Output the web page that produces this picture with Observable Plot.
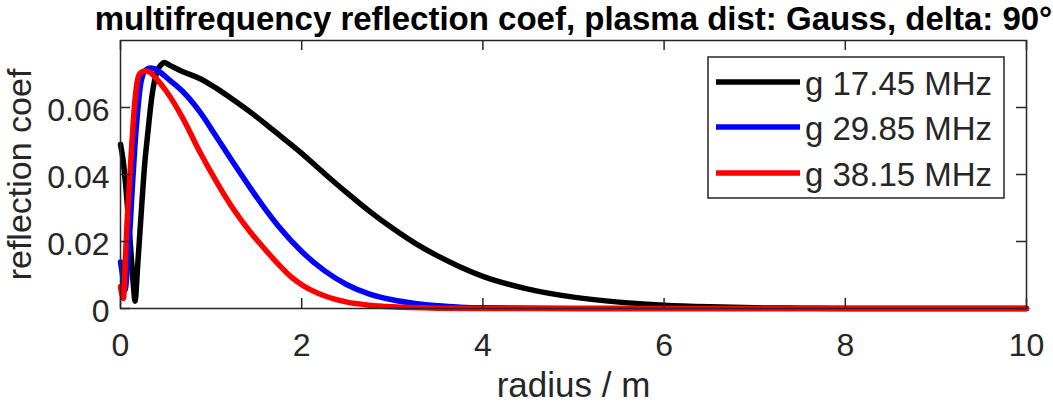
<!DOCTYPE html>
<html>
<head>
<meta charset="utf-8">
<script src="https://cdn.jsdelivr.net/npm/d3@7"></script>
<script src="https://cdn.jsdelivr.net/npm/@observablehq/plot@0.6"></script>
<style>
  html, body { margin: 0; padding: 0; background: white; }
  #wrap { position: relative; width: 1053px; height: 406px; overflow: hidden; }
  #legend { position: absolute; left: 0; top: 0; }
</style>
</head>
<body>
<div id="wrap"></div>
<script>
// ---- data ----
const seriesNames = ["g 17.45 MHz", "g 29.85 MHz", "g 38.15 MHz"];
const seriesColors = ["#000000", "#0000ff", "#ff0000"];

const r1 = [0, 0.03, 0.06, 0.09, 0.12, 0.145, 0.16, 0.19, 0.22, 0.27, 0.30, 0.35, 0.40, 0.45, 0.48, 0.55, 0.69, 0.88, 1.06, 1.24, 1.43, 1.61, 1.76, 2.0, 2.25, 2.5, 2.75, 3.0, 3.25, 3.5, 3.75, 4.0, 4.5, 5.0, 5.5, 6.0, 6.5, 7.0, 7.5, 8, 9, 10];
const v1 = [0.049, 0.044, 0.036, 0.026, 0.015, 0.006, 0.0022, 0.013, 0.025, 0.044, 0.052, 0.064, 0.0705, 0.0728, 0.0734, 0.0725, 0.0707, 0.0686, 0.0657, 0.0624, 0.0587, 0.0549, 0.0516, 0.0463, 0.0403, 0.0345, 0.0290, 0.0240, 0.0195, 0.0157, 0.0124, 0.0096, 0.0058, 0.0034, 0.0019, 0.0010, 0.0005, 0.0002, 0.0001, 0, 0, 0];

const r2 = [0, 0.025, 0.05, 0.08, 0.106, 0.13, 0.16, 0.19, 0.217, 0.25, 0.29, 0.33, 0.36, 0.40, 0.545, 0.69, 0.876, 1.06, 1.24, 1.43, 1.61, 1.76, 2.0, 2.25, 2.5, 2.75, 3.0, 3.25, 3.5, 3.75, 4.0, 5, 6, 8, 10];
const v2 = [0.0139, 0.0095, 0.0055, 0.014, 0.0244, 0.036, 0.049, 0.059, 0.066, 0.0700, 0.0714, 0.0718, 0.0717, 0.0712, 0.0681, 0.0647, 0.0587, 0.0512, 0.0437, 0.0361, 0.0292, 0.0240, 0.0170, 0.0113, 0.0071, 0.0043, 0.0026, 0.0015, 0.0008, 0.0004, 0.0002, 0, 0, 0, 0];

const r3 = [0, 0.033, 0.05, 0.07, 0.10, 0.125, 0.15, 0.18, 0.21, 0.25, 0.27, 0.32, 0.40, 0.51, 0.69, 0.876, 1.06, 1.24, 1.43, 1.61, 1.76, 1.88, 2.0, 2.25, 2.5, 2.75, 3.0, 3.5, 4, 6, 8, 10];
const v3 = [0.0065, 0.003, 0.012, 0.0244, 0.038, 0.049, 0.059, 0.067, 0.0700, 0.0708, 0.0709, 0.0706, 0.0685, 0.0647, 0.0567, 0.0467, 0.0378, 0.0299, 0.0229, 0.0172, 0.0127, 0.0095, 0.0071, 0.0038, 0.0019, 0.0010, 0.0005, 0.0001, 0, 0, 0, 0];

const xTicks = [0, 2, 4, 6, 8, 10];
const yTicks = [0, 0.02, 0.04, 0.06];
const yTickLabels = ["0", "0.02", "0.04", "0.06"];

const titleText = "multifrequency reflection coef, plasma dist: Gauss, delta: 90°";
const xLabel = "radius / m";
const yLabel = "reflection coef";

// ---- build ----
const mk = (rs, vs) => rs.map((r, i) => ({r, v: vs[i]}));
const data = [mk(r1, v1), mk(r2, v2), mk(r3, v3)];

const axisColor = "#262626";
const fontFamily = "'Liberation Sans', Arial, Helvetica, sans-serif";

const chart = Plot.plot({
  width: 1053,
  height: 406,
  marginLeft: 120,
  marginRight: 27,
  marginTop: 40,
  marginBottom: 98,
  style: {fontFamily, color: axisColor, background: "white", overflow: "visible"},
  x: {domain: [0, 10]},
  y: {domain: [0, 0.08]},
  marks: [
    ...data.map((d, i) => Plot.line(d, {x: "r", y: "v", stroke: seriesColors[i], strokeWidth: 5.5, curve: "monotone-x"})),
    Plot.frame({stroke: axisColor, strokeWidth: 1.5}),
    Plot.tickX(xTicks, {x: d => d, insetTop: 258, stroke: axisColor, strokeWidth: 1.5}),
    Plot.tickX(xTicks, {x: d => d, insetBottom: 258, stroke: axisColor, strokeWidth: 1.5}),
    Plot.tickY(yTicks, {y: d => d, insetRight: 896, stroke: axisColor, strokeWidth: 1.5}),
    Plot.tickY(yTicks, {y: d => d, insetLeft: 896, stroke: axisColor, strokeWidth: 1.5}),
    Plot.axisX({ticks: xTicks, tickSize: 0, tickPadding: 25, fontSize: 32, label: null, tickFormat: d => String(d)}),
    Plot.axisY({ticks: yTicks, tickSize: 0, tickPadding: 11, fontSize: 32, label: null, dy: 3,
      tickFormat: d => yTickLabels[yTicks.indexOf(d)]}),
    Plot.text([titleText], {text: d => d, frameAnchor: "top", dy: -11, lineAnchor: "bottom", fontSize: 33, fontWeight: "bold", fill: "#000"}),
    Plot.text([xLabel], {text: d => d, frameAnchor: "bottom", dy: 88, lineAnchor: "bottom", fontSize: 35}),
    Plot.text([yLabel], {text: d => d, frameAnchor: "left", dx: -90, rotate: -90, lineAnchor: "bottom", textAnchor: "middle", fontSize: 34})
  ]
});

const wrap = document.getElementById("wrap");
wrap.appendChild(chart);

// ---- legend (overlay) ----
const lg = d3.select(wrap).append("svg")
  .attr("id", "legend")
  .attr("width", 1053).attr("height", 406)
  .style("font-family", fontFamily);
const box = {x: 708, y: 57, w: 296, h: 141};
lg.append("rect").attr("x", box.x).attr("y", box.y).attr("width", box.w).attr("height", box.h)
  .attr("fill", "white").attr("stroke", axisColor).attr("stroke-width", 1.5);
const rowY = [82, 127, 173];
seriesNames.forEach((name, i) => {
  lg.append("line").attr("x1", 716).attr("x2", 800).attr("y1", rowY[i]).attr("y2", rowY[i])
    .attr("stroke", seriesColors[i]).attr("stroke-width", 5.5);
  lg.append("text").attr("x", 805).attr("y", rowY[i] + 13).attr("font-size", 33)
    .attr("fill", axisColor).text(name);
});
</script>
</body>
</html>
